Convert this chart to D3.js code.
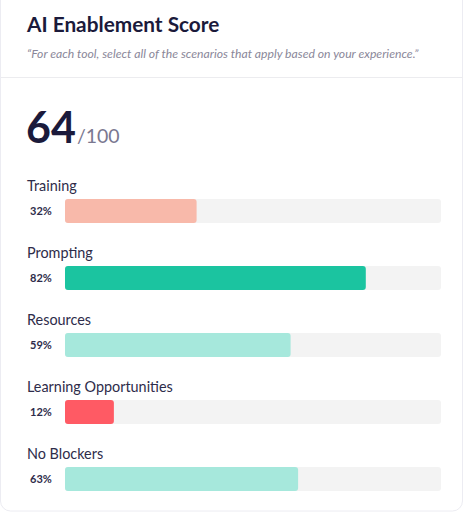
<!DOCTYPE html>
<html>
<head>
<meta charset="utf-8">
<script src="https://cdn.jsdelivr.net/npm/d3@7"></script>
<style>
  html, body { margin: 0; padding: 0; background: #ffffff; }
  svg { display: block; }
  text { font-family: Lato, "Noto Sans", sans-serif; }
</style>
</head>
<body>
<div id="chart"></div>
<script>
const title = "AI Enablement Score";
const subtitle = "\u201CFor each tool, select all of the scenarios that apply based on your experience.\u201D";
const score = 64;
const scoreMax = 100;
const categories = ["Training", "Prompting", "Resources", "Learning Opportunities", "No Blockers"];
const percentLabels = ["32%", "82%", "59%", "12%", "63%"];
const barValues = [35, 80, 60, 13, 62];
const barColors = ["#f8b9aa", "#1bc4a0", "#a6e8dc", "#ff5a64", "#a6e8dc"];

const W = 465, H = 513;
const svg = d3.select("#chart").append("svg").attr("width", W).attr("height", H);

// card
svg.append("rect").attr("x", 0.5).attr("y", -12).attr("width", W - 3).attr("height", H - 1 + 11)
  .attr("rx", 10).attr("fill", "#fff").attr("stroke", "#ececf2");
svg.append("line").attr("x1", 1).attr("x2", W - 2).attr("y1", 77.5).attr("y2", 77.5)
  .attr("stroke", "#ececef");

svg.append("text").attr("x", 27).attr("y", 32).attr("font-size", 20.8).attr("font-weight", 700)
  .attr("fill", "#1b1a3b").text(title);
svg.append("text").attr("x", 27).attr("y", 58).attr("font-size", 12.2).attr("font-style", "italic")
  .attr("fill", "#8a8799").text(subtitle);

const sc = svg.append("text").attr("x", 26).attr("y", 143).attr("fill", "#1b1a3b");
sc.append("tspan").attr("font-size", 43).attr("font-weight", 700).text(score);
sc.append("tspan").attr("font-size", 19.5).attr("fill", "#7a7890").attr("dx", 1).text("/" + scoreMax);

const x = d3.scaleLinear().domain([0, 100]).range([65, 441]);
const y = d3.scaleBand().domain(categories).range([199 - 43, 199 - 43 + 67 * 5]).paddingInner(0).paddingOuter(0);

const g = svg.selectAll("g.row").data(categories).join("g").attr("class", "row")
  .attr("transform", d => `translate(0,${y(d) + 43})`);

g.append("text").attr("x", 27).attr("y", -8).attr("font-size", 14.4).attr("fill", "#2e2c4a").text(d => d);
g.append("text").attr("x", 30).attr("y", 16).attr("font-size", 11).attr("font-weight", 700)
  .attr("fill", "#2e2c4a").text((d, i) => percentLabels[i]);
g.append("rect").attr("x", x(0)).attr("y", 0).attr("width", x(100) - x(0)).attr("height", 24)
  .attr("rx", 3).attr("fill", "#f3f3f3");
g.append("rect").attr("x", x(0)).attr("y", 0).attr("width", (d, i) => x(barValues[i]) - x(0)).attr("height", 24)
  .attr("rx", 3).attr("fill", (d, i) => barColors[i]);
</script>
</body>
</html>
